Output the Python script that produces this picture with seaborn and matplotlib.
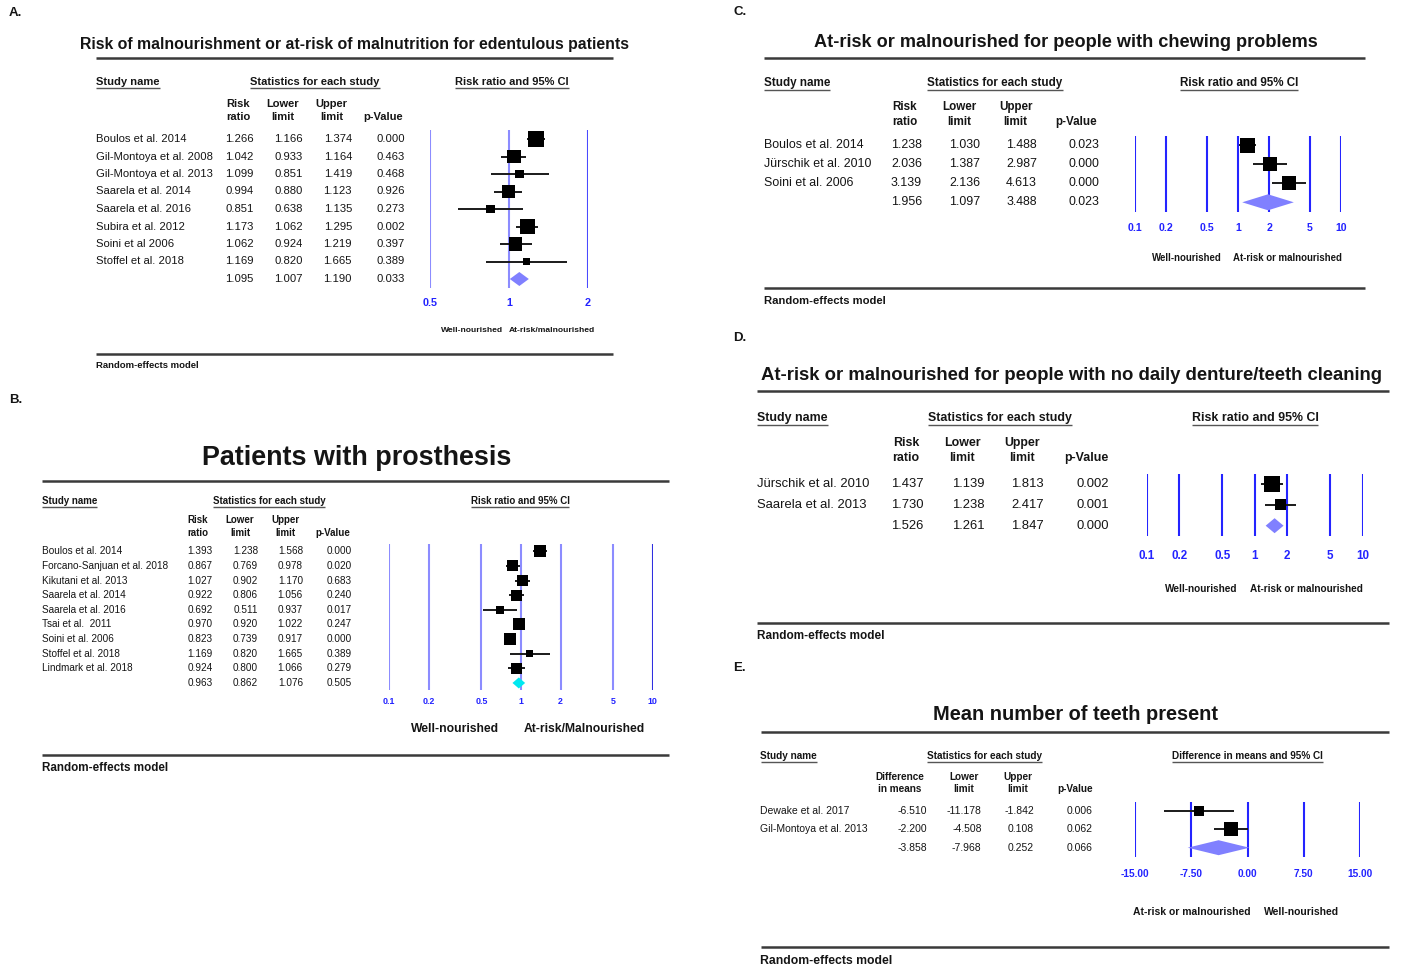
import numpy as np
import pandas as pd
import matplotlib
matplotlib.use("Agg")
import matplotlib.pyplot as plt
import matplotlib.transforms as mtransforms
import seaborn as sns

# --- datos de cada panel ---
names_a = ["Boulos et al. 2014", "Gil-Montoya et al. 2008", "Gil-Montoya et al. 2013",
           "Saarela et al. 2014", "Saarela et al. 2016", "Subira et al. 2012",
           "Soini et al 2006", "Stoffel et al. 2018"]
rr_a = [1.266, 1.042, 1.099, 0.994, 0.851, 1.173, 1.062, 1.169]
lo_a = [1.166, 0.933, 0.851, 0.880, 0.638, 1.062, 0.924, 0.820]
hi_a = [1.374, 1.164, 1.419, 1.123, 1.135, 1.295, 1.219, 1.665]
p_a = [0.000, 0.463, 0.468, 0.926, 0.273, 0.002, 0.397, 0.389]
w_a = [20.9, 16.0, 6.6, 13.8, 6.6, 18.4, 13.8, 4.0]
pooled_a = [1.095, 1.007, 1.190, 0.033]

names_b = ["Boulos et al. 2014", "Forcano-Sanjuan et al. 2018", "Kikutani et al. 2013",
           "Saarela et al. 2014", "Saarela et al. 2016", "Tsai et al.  2011",
           "Soini et al. 2006", "Stoffel et al. 2018", "Lindmark et al. 2018"]
rr_b = [1.393, 0.867, 1.027, 0.922, 0.692, 0.970, 0.823, 1.169, 0.924]
lo_b = [1.238, 0.769, 0.902, 0.806, 0.511, 0.920, 0.739, 0.820, 0.800]
hi_b = [1.568, 0.978, 1.170, 1.056, 0.937, 1.022, 0.917, 1.665, 1.066]
p_b = [0.000, 0.020, 0.683, 0.240, 0.017, 0.247, 0.000, 0.389, 0.279]
w_b = [14.0, 11.8, 11.8, 11.8, 6.2, 14.0, 14.0, 4.8, 11.8]
pooled_b = [0.963, 0.862, 1.076, 0.505]

names_c = ["Boulos et al. 2014", "Jürschik et al. 2010", "Soini et al. 2006"]
rr_c = [1.238, 2.036, 3.139]
lo_c = [1.030, 1.387, 2.136]
hi_c = [1.488, 2.987, 4.613]
p_c = [0.023, 0.000, 0.000]
w_c = [36.5, 31.8, 31.8]
pooled_c = [1.956, 1.097, 3.488, 0.023]

names_d = ["Jürschik et al. 2010", "Saarela et al. 2013"]
rr_d = [1.437, 1.730]
lo_d = [1.139, 1.238]
hi_d = [1.813, 2.417]
p_d = [0.002, 0.001]
w_d = [67.9, 32.1]
pooled_d = [1.526, 1.261, 1.847, 0.000]

names_e = ["Dewake et al. 2017", "Gil-Montoya et al. 2013"]
dm_e = [-6.510, -2.200]
lo_e = [-11.178, -4.508]
hi_e = [-1.842, 0.108]
p_e = [0.006, 0.062]
w_e = [33.8, 66.2]
pooled_e = [-3.858, -7.968, 0.252, 0.066]

rr_ticks = [0.1, 0.2, 0.5, 1, 2, 5, 10]
rr_labels = ["0.1", "0.2", "0.5", "1", "2", "5", "10"]

W, H = 1401, 968

sns.set_theme(style="white")
plt.rcParams["font.family"] = ["Liberation Sans", "DejaVu Sans"]

fig = plt.figure(figsize=(W / 100, H / 100), dpi=100)
bg = fig.add_axes([0, 0, 1, 1])
bg.set_xlim(0, W)
bg.set_ylim(H, 0)
bg.axis("off")

titulos = []
subrayar = []


def txt(x, y, s, size, bold=False, ha="left", color="#151515", **kw):
    return bg.text(x, y, s, fontsize=size, fontweight="bold" if bold else "normal",
                   ha=ha, va="center", color=color, **kw)


def panel(names, est, lo, hi, pv, w, pooled, L):
    txt(L["letter"][0], L["letter"][1], L["letter_txt"], 9.5, True)
    t = txt(L["title"][0], L["title"][1], L["title_txt"], 12, True, ha="center")
    titulos.append((t, L["title"][2]))

    x0, x1 = L["rule_x"]
    for yy in L["rule_y"]:
        bg.plot([x0, x1], [yy, yy], color="#3a3a3a", lw=1.8, solid_capstyle="butt")

    hs, hy = L["hdr_size"], L["hdr_y"]
    subrayar.append(txt(x0, hy, "Study name", hs, True))
    subrayar.append(txt(L["stats_cx"], hy, "Statistics for each study", hs, True, "center"))
    subrayar.append(txt(L["ci_cx"], hy, L["ci_txt"], hs, True, "center"))
    for cx, a, b in zip(L["col_cx"], L["col_top"], L["col_bot"]):
        txt(cx, L["col_y"][0], a, hs, True, "center")
        txt(cx, L["col_y"][1], b, hs, True, "center")

    # tabla de valores
    n = len(names)
    rs, r0, dy = L["row_size"], L["row0"], L["dy"]
    for i in range(n):
        y = r0 + i * dy
        txt(x0, y, names[i], rs)
        for xr, v in zip(L["val_x"], [est[i], lo[i], hi[i], pv[i]]):
            txt(xr, y, f"{v:.3f}", rs, ha="right")
    for xr, v in zip(L["val_x"], pooled):
        txt(xr, r0 + n * dy, f"{v:.3f}", rs, ha="right")

    # grafica de bosque
    fx0, fx1, fy0, fy1 = L["box"]
    ax = fig.add_axes([fx0 / W, 1 - fy1 / H, (fx1 - fx0) / W, (fy1 - fy0) / H])
    ax.set_facecolor("none")
    if L["log"]:
        ax.set_xscale("log")
    ax.axis("off")
    for tk, c in zip(L["ticks"], L["vcol"]):
        ax.axvline(tk, color=c, lw=1.5, zorder=1)

    df = pd.DataFrame({"est": est, "lo": lo, "hi": hi, "w": w, "row": np.arange(n)})
    ax.hlines(df["row"], df["lo"], df["hi"], color="#1a1a1a", lw=1.4, zorder=2)
    lado = L["box_px"] * 0.72
    sns.scatterplot(data=df, x="est", y="row", size="w", sizes=(0, lado ** 2),
                    size_norm=(0, df["w"].max()), marker="s", color="black",
                    linewidth=0, legend=False, ax=ax, zorder=3, clip_on=False)
    pe, pl, ph = pooled[:3]
    hh = L["dia_px"] / dy / 2
    ax.fill([pl, pe, ph, pe], [n, n - hh, n, n + hh], color=L["dia_col"], lw=0,
            zorder=3, clip_on=False)
    ax.set_xlim(L["ticks"][0], L["ticks"][-1])
    ax.set_ylim((fy1 - r0) / dy, (fy0 - r0) / dy)

    tr = mtransforms.blended_transform_factory(ax.transData, bg.transData)
    for tk, lab in zip(L["ticks"], L["labels"]):
        bg.text(tk, L["tick_y"], lab, transform=tr, fontsize=L["tick_size"],
                fontweight="bold", color="#2323ff", ha="center", va="center")

    txt(L["side_x"][0], L["side_y"], L["side_txt"][0], L["side_size"], True, "right")
    txt(L["side_x"][1], L["side_y"], L["side_txt"][1], L["side_size"], True, "left")
    txt(x0, L["foot_y"], "Random-effects model", L["foot_size"], True)


top_rr = ["Risk", "Lower", "Upper", ""]
bot_rr = ["ratio", "limit", "limit", "p-Value"]
light, strong = "#8c8cff", "#2424ff"

panel(names_a, rr_a, lo_a, hi_a, p_a, w_a, pooled_a, dict(
    letter=(9, 13), letter_txt="A.",
    title=(354, 44, 548),
    title_txt="Risk of malnourishment or at-risk of malnutrition for edentulous patients",
    rule_x=(96, 613), rule_y=(58, 354),
    hdr_y=82, hdr_size=8.0, stats_cx=315, ci_cx=512, ci_txt="Risk ratio and 95% CI",
    col_cx=[238, 283, 331.5, 383], col_top=top_rr, col_bot=bot_rr, col_y=(104, 117),
    val_x=[253.5, 303, 352, 405], row_size=8.1, row0=139, dy=17.5,
    box=(430, 588, 130, 288), log=True, ticks=[0.5, 1, 2], labels=["0.5", "1", "2"],
    vcol=[light, light, "#4a4aff"], tick_y=303, tick_size=7.8,
    box_px=16, dia_px=14, dia_col="#8080ff",
    side_x=(503, 509), side_y=330, side_size=6.1,
    side_txt=("Well-nourished", "At-risk/malnourished"),
    foot_y=365, foot_size=6.8))

panel(names_b, rr_b, lo_b, hi_b, p_b, w_b, pooled_b, dict(
    letter=(9, 400), letter_txt="B.",
    title=(357, 458, 308), title_txt="Patients with prosthesis",
    rule_x=(42, 669), rule_y=(481, 755),
    hdr_y=501, hdr_size=7.0, stats_cx=269, ci_cx=520, ci_txt="Risk ratio and 95% CI",
    col_cx=[198, 240, 285.5, 333], col_top=top_rr, col_bot=bot_rr, col_y=(520, 533),
    val_x=[212.7, 258, 303, 352], row_size=7.2, row0=551.3, dy=14.63,
    box=(389.3, 652.6, 544, 690), log=True, ticks=rr_ticks, labels=rr_labels,
    vcol=[light] * 6 + ["#3030e0"], tick_y=702, tick_size=6.4,
    box_px=12, dia_px=11, dia_col="#00e8f0",
    side_x=(499, 524), side_y=729, side_size=8.7,
    side_txt=("Well-nourished", "At-risk/Malnourished"),
    foot_y=768, foot_size=8.4))

panel(names_c, rr_c, lo_c, hi_c, p_c, w_c, pooled_c, dict(
    letter=(733, 12), letter_txt="C.",
    title=(1065.5, 42.7, 501),
    title_txt="At-risk or malnourished for people with chewing problems",
    rule_x=(763.6, 1365), rule_y=(57.7, 288.3),
    hdr_y=83.3, hdr_size=8.4, stats_cx=995, ci_cx=1239, ci_txt="Risk ratio and 95% CI",
    col_cx=[905, 959, 1015.6, 1076], col_top=top_rr, col_bot=bot_rr, col_y=(107, 121.7),
    val_x=[922, 980, 1037, 1099], row_size=8.9, row0=145, dy=19.1,
    box=(1135.4, 1340.8, 136, 211.7), log=True, ticks=rr_ticks, labels=rr_labels,
    vcol=[strong] * 7, tick_y=228.3, tick_size=7.6,
    box_px=15, dia_px=16, dia_col="#8080ff",
    side_x=(1221.3, 1233), side_y=257.7, side_size=6.9,
    side_txt=("Well-nourished", "At-risk or malnourished"),
    foot_y=301, foot_size=8.1))

panel(names_d, rr_d, lo_d, hi_d, p_d, w_d, pooled_d, dict(
    letter=(733, 338), letter_txt="D.",
    title=(1071.5, 375, 621),
    title_txt="At-risk or malnourished for people with no daily denture/teeth cleaning",
    rule_x=(757, 1389), rule_y=(391, 622.7),
    hdr_y=418.3, hdr_size=8.9, stats_cx=1000, ci_cx=1255, ci_txt="Risk ratio and 95% CI",
    col_cx=[906, 962, 1021.7, 1086], col_top=top_rr, col_bot=bot_rr, col_y=(443.3, 458.3),
    val_x=[923.6, 984.6, 1044, 1108.8], row_size=9.4, row0=484, dy=20.85,
    box=(1147, 1362.6, 474, 536), log=True, ticks=rr_ticks, labels=rr_labels,
    vcol=[strong] * 7, tick_y=556, tick_size=8.4,
    box_px=16, dia_px=15, dia_col="#8080ff",
    side_x=(1237.9, 1250), side_y=589, side_size=7.2,
    side_txt=("Well-nourished", "At-risk or malnourished"),
    foot_y=635.7, foot_size=8.5))

panel(names_e, dm_e, lo_e, hi_e, p_e, w_e, pooled_e, dict(
    letter=(733, 668.3), letter_txt="E.",
    title=(1075.4, 715, 285), title_txt="Mean number of teeth present",
    rule_x=(760.5, 1389), rule_y=(731.7, 946.7),
    hdr_y=755.7, hdr_size=7.2, stats_cx=984.6, ci_cx=1247.6,
    ci_txt="Difference in means and 95% CI",
    col_cx=[900, 964, 1017.7, 1074.6], col_top=["Difference", "Lower", "Upper", ""],
    col_bot=["in means", "limit", "limit", "p-Value"], col_y=(777, 789),
    val_x=[927, 981.6, 1034, 1092.7], row_size=7.5, row0=810.7, dy=18.5,
    box=(1135, 1360, 802.3, 856.7), log=False, ticks=[-15, -7.5, 0, 7.5, 15],
    labels=["-15.00", "-7.50", "0.00", "7.50", "15.00"],
    vcol=[strong] * 5, tick_y=874.3, tick_size=7.3,
    box_px=14, dia_px=15, dia_col="#8080ff",
    side_x=(1251, 1264), side_y=911.7, side_size=7.5,
    side_txt=("At-risk or malnourished", "Well-nourished"),
    foot_y=961, foot_size=8.8))

# ajustamos titulos al ancho del original y subrayamos encabezados
fig.canvas.draw()
r = fig.canvas.get_renderer()
inv = bg.transData.inverted()
for t, ancho in titulos:
    t.set_fontsize(t.get_fontsize() * ancho / t.get_window_extent(r).width)
for t in subrayar:
    bb = t.get_window_extent(r)
    (a, b), (c, d) = inv.transform([[bb.x0, bb.y0], [bb.x1, bb.y1]])
    bg.plot([a, c], [b + 1.0, b + 1.0], color="#555555", lw=1.0, solid_capstyle="butt")

fig.savefig("out.png", dpi=100)
plt.close(fig)
